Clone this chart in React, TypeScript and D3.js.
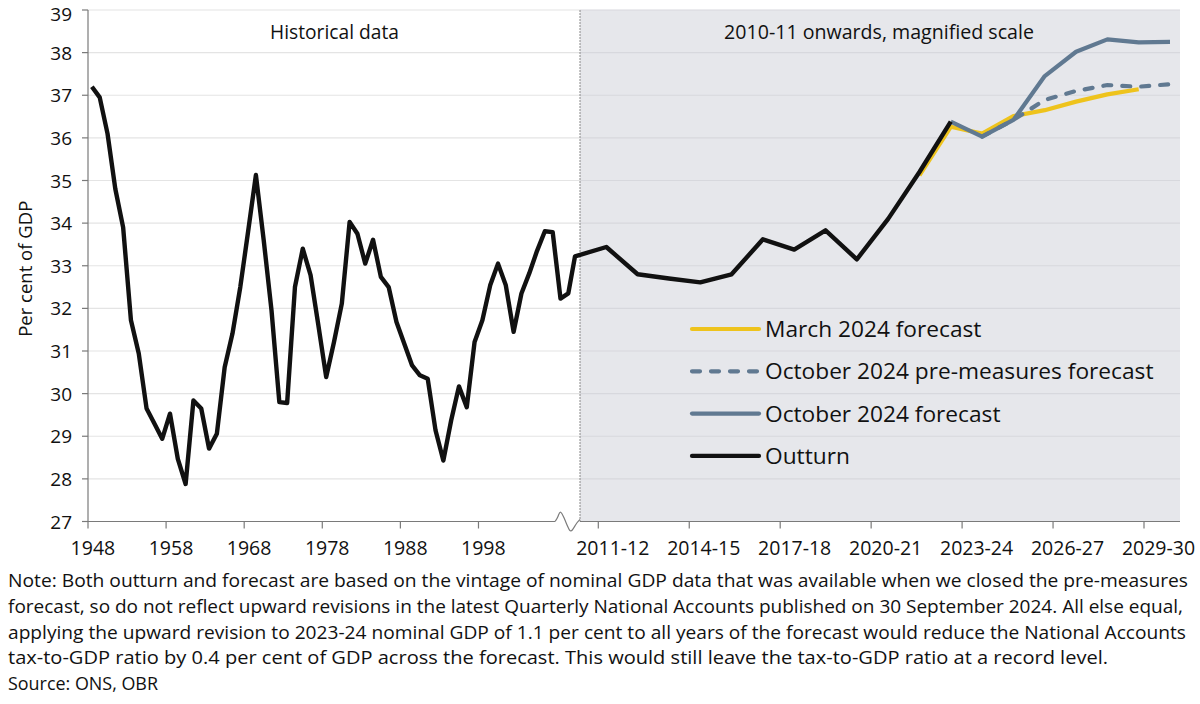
import React from 'react';
import * as d3 from 'd3';

// ---------- data ----------
const histStartYear = 1948;
const histValues = [
  37.2, 36.95, 36.1, 34.8, 33.9, 31.72, 30.94, 29.65, 29.3, 28.94,
  29.53, 28.47, 27.88, 29.84, 29.65, 28.71, 29.06, 30.62, 31.41, 32.5,
  33.8, 35.13, 33.6, 31.95, 29.8, 29.78, 32.5, 33.4, 32.78, 31.6,
  30.39, 31.21, 32.11, 34.03, 33.75, 33.05, 33.61, 32.74, 32.5, 31.68,
  31.17, 30.66, 30.43, 30.35, 29.14, 28.43, 29.37, 30.17, 29.68, 31.21,
  31.72, 32.54, 33.05, 32.54, 31.45, 32.35, 32.82, 33.35, 33.81, 33.79,
  32.23, 32.35,
];
const histTickLabels = ['1948', '1958', '1968', '1978', '1988', '1998'];

const fiscalYears = [
  '2010-11', '2011-12', '2012-13', '2013-14', '2014-15', '2015-16', '2016-17',
  '2017-18', '2018-19', '2019-20', '2020-21', '2021-22', '2022-23', '2023-24',
  '2024-25', '2025-26', '2026-27', '2027-28', '2028-29', '2029-30',
];
const rightTickLabels = ['2011-12', '2014-15', '2017-18', '2020-21', '2023-24', '2026-27', '2029-30'];

const outturnStart = '2010-11';
const outturnValues = [33.22, 33.44, 32.8, 32.7, 32.61, 32.8, 33.62, 33.38, 33.83, 33.15, 34.1, 35.2, 36.38];
const marchStart = '2021-22';
const marchValues = [35.12, 36.26, 36.1, 36.51, 36.65, 36.85, 37.02, 37.14];
const octPreStart = '2023-24';
const octPreValues = [36.03, 36.42, 36.89, 37.1, 37.24, 37.2, 37.26];
const octStart = '2022-23';
const octValues = [36.38, 36.03, 36.42, 37.45, 38.02, 38.31, 38.24, 38.25];

const yTicks = [27, 28, 29, 30, 31, 32, 33, 34, 35, 36, 37, 38, 39];

const legendItems = [
  { label: 'March 2024 forecast', color: '#EEC31C', dash: null },
  { label: 'October 2024 pre-measures forecast', color: '#607991', dash: '8 11' },
  { label: 'October 2024 forecast', color: '#607991', dash: null },
  { label: 'Outturn', color: '#111111', dash: null },
];

const noteLines = [
  'Note: Both outturn and forecast are based on the vintage of nominal GDP data that was available when we closed the pre-measures',
  'forecast, so do not reflect upward revisions in the latest Quarterly National Accounts published on 30 September 2024. All else equal,',
  'applying the upward revision to 2023-24 nominal GDP of 1.1 per cent to all years of the forecast would reduce the National Accounts',
  'tax-to-GDP ratio by 0.4 per cent of GDP across the forecast. This would still leave the tax-to-GDP ratio at a record level.',
  'Source: ONS, OBR',
];
const noteWidths = [1180, 1175, 1178, 1100, 150];

// ---------- layout ----------
const W = 1200;
const H = 704;
const plotLeft = 88;
const plotTop = 10;
const plotBottom = 521.5;
const splitX = 580;
const plotRight = 1180;
const breakStart = 555;
const FONT = '"Open Sans", "Noto Sans", sans-serif';

export default function App() {
  const y = d3.scaleLinear().domain([27, 39]).range([plotBottom, plotTop]);
  const xHist = d3.scaleLinear().domain([histStartYear - 0.5, 2010.5]).range([plotLeft, splitX]);
  const xRight = d3.scalePoint<string>().domain(fiscalYears).range([575, 1170]).padding(0);
  const xRightTicks = d3.scaleLinear().domain([0, rightTickLabels.length - 1]).range([598.3, 1144]);

  const histPts: [number, number][] = histValues.map((v, i) => [xHist(histStartYear + i), y(v)]);
  const seriesPts = (start: string, vals: number[]): [number, number][] => {
    const s = fiscalYears.indexOf(start);
    return vals.map((v, i) => [xRight(fiscalYears[s + i]) as number, y(v)]);
  };
  const line = d3.line();
  const outturnPath = line([...histPts, ...seriesPts(outturnStart, outturnValues)]) || '';
  const marchPath = line(seriesPts(marchStart, marchValues)) || '';
  const octPrePath = line(seriesPts(octPreStart, octPreValues)) || '';
  const octPath = line(seriesPts(octStart, octValues)) || '';

  const breakPath =
    d3.line().curve(d3.curveBasis)([
      [breakStart, plotBottom],
      [breakStart + 3, plotBottom - 4],
      [breakStart + 5, plotBottom - 12],
      [breakStart + 9, plotBottom - 4],
      [breakStart + 13, plotBottom + 6],
      [breakStart + 16, plotBottom + 12],
      [breakStart + 21, plotBottom + 2],
      [splitX, plotBottom - 2],
    ]) || '';

  const histTicks = histTickLabels.map((l) => +l);
  const legendX0 = 692;
  const legendX1 = 759;
  const legendY0 = 329;
  const legendStep = 42.3;

  return (
    <svg width={W} height={H} style={{ position: 'absolute', left: 0, top: 0, background: '#fff' }} fontFamily={FONT}>
      {/* right panel background */}
      <rect x={splitX} y={plotTop} width={plotRight - splitX} height={plotBottom - plotTop} fill="#E6E7EB" />
      {/* gridlines */}
      {yTicks.filter((t) => t > 27).map((t) => (
        <g key={'g' + t}>
          <line x1={plotLeft} x2={splitX} y1={y(t)} y2={y(t)} stroke="#E4E4E4" strokeWidth={1.2} />
          <line x1={splitX} x2={plotRight} y1={y(t)} y2={y(t)} stroke="#D7D8DD" strokeWidth={1.2} />
        </g>
      ))}
      {/* dashed separator */}
      <line x1={splitX} x2={splitX} y1={plotTop} y2={plotBottom} stroke="#8a8a8a" strokeWidth={1} strokeDasharray="2 1" />

      {/* panel titles */}
      <text x={334.5} y={39} textAnchor="middle" fontSize={19.2} fill="#111">Historical data</text>
      <text x={879} y={39} textAnchor="middle" fontSize={19.6} fill="#111">2010-11 onwards, magnified scale</text>

      {/* series */}
      <path d={marchPath} fill="none" stroke="#EEC31C" strokeWidth={4.2} strokeLinejoin="round" />
      <path d={octPrePath} fill="none" stroke="#607991" strokeWidth={4.2} strokeDasharray="8 11" strokeLinecap="round" />
      <path d={octPath} fill="none" stroke="#607991" strokeWidth={4.2} strokeLinejoin="round" />
      <path d={outturnPath} fill="none" stroke="#111111" strokeWidth={4.4} strokeLinejoin="round" />

      {/* axes */}
      <line x1={plotLeft} x2={plotLeft} y1={plotTop} y2={plotBottom} stroke="#7a7a7a" strokeWidth={1.2} />
      {yTicks.map((t) => (
        <g key={'y' + t}>
          <line x1={plotLeft - 6} x2={plotLeft} y1={y(t)} y2={y(t)} stroke="#7a7a7a" strokeWidth={1.2} />
          <text x={72} y={Math.max(y(t) + 7, 21)} textAnchor="end" fontSize={19} fill="#111">{t}</text>
        </g>
      ))}
      <text transform={`translate(32,${(plotTop + plotBottom) / 2 + 3}) rotate(-90)`} textAnchor="middle" fontSize={18.5} fill="#111">
        Per cent of GDP
      </text>

      <line x1={plotLeft} x2={breakStart} y1={plotBottom} y2={plotBottom} stroke="#7a7a7a" strokeWidth={1.2} />
      <path d={breakPath} fill="none" stroke="#7a7a7a" strokeWidth={1.2} />
      <line x1={splitX} x2={plotRight} y1={plotBottom} y2={plotBottom} stroke="#7a7a7a" strokeWidth={1.2} />

      {histTicks.map((yr, i) => (
        <g key={'hx' + yr}>
          <line x1={xHist(yr - 0.5)} x2={xHist(yr - 0.5)} y1={plotBottom} y2={plotBottom + 7} stroke="#7a7a7a" strokeWidth={1.2} />
          <text x={xHist(yr) + 1} y={555} textAnchor="middle" fontSize={19.5} fill="#111">{histTickLabels[i]}</text>
        </g>
      ))}
      {rightTickLabels.map((l, i) => (
        <g key={'rx' + l}>
          <line x1={xRightTicks(i)} x2={xRightTicks(i)} y1={plotBottom} y2={plotBottom + 7} stroke="#7a7a7a" strokeWidth={1.2} />
          <text x={xRightTicks(i) + 14.5} y={555} textAnchor="middle" fontSize={19.5} fill="#111">{l}</text>
        </g>
      ))}

      {/* legend */}
      {legendItems.map((it, i) => {
        const ly = legendY0 + i * legendStep;
        return (
          <g key={'lg' + i}>
            <line x1={legendX0} x2={legendX1} y1={ly} y2={ly} stroke={it.color} strokeWidth={4.2}
              strokeLinecap="round" strokeDasharray={it.dash || undefined} />
            <text x={765} y={ly + 8} fontSize={22.7} fill="#111">{it.label}</text>
          </g>
        );
      })}

      {/* notes */}
      {noteLines.map((l, i) => (
        <text key={'n' + i} x={8} y={587 + i * 25.8} fontSize={17.5} fill="#111"
          textLength={noteWidths[i]} lengthAdjust="spacingAndGlyphs">{l}</text>
      ))}
    </svg>
  );
}
